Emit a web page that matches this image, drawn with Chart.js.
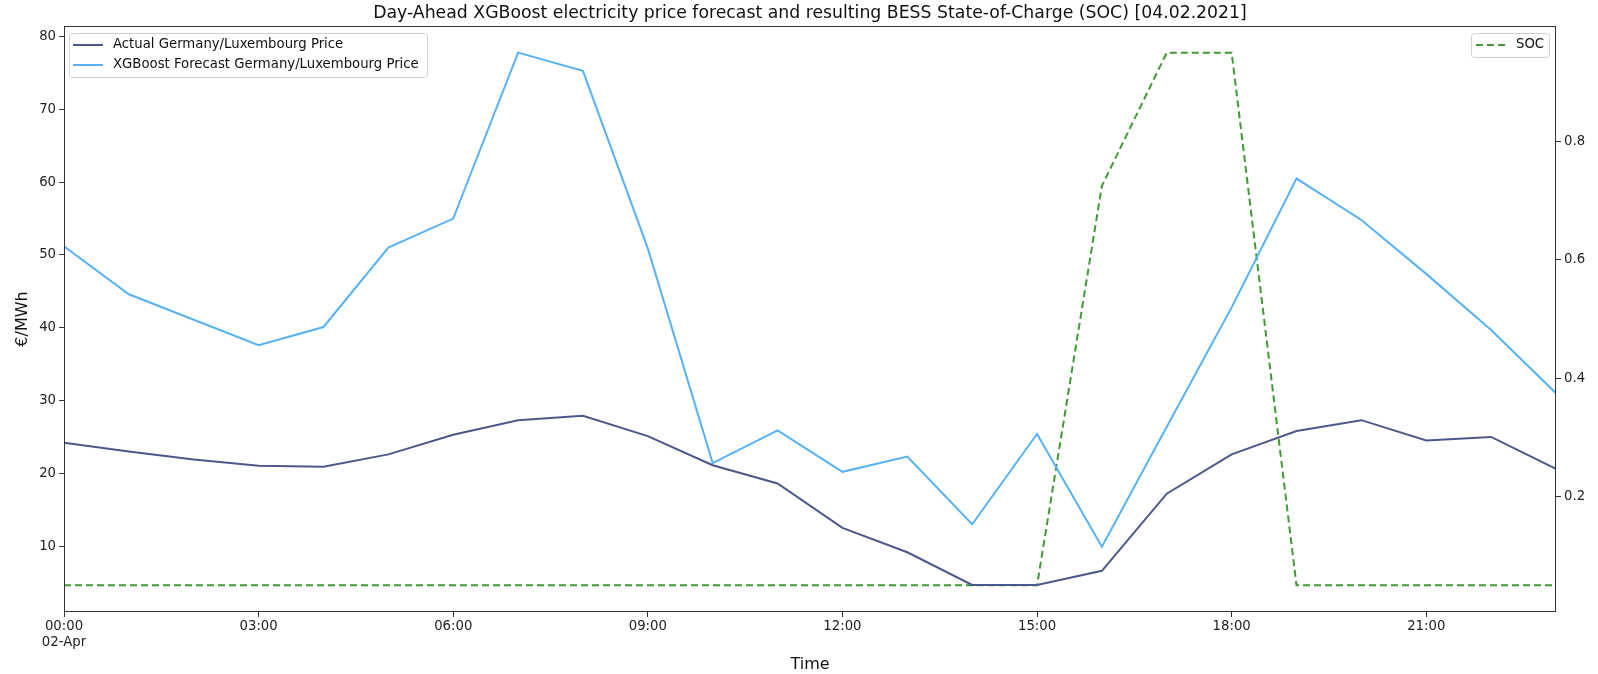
<!DOCTYPE html>
<html>
<head>
<meta charset="utf-8">
<script src="https://cdn.jsdelivr.net/npm/chart.js@4.4.1/dist/chart.umd.min.js"></script>
<style>
  html, body { margin: 0; padding: 0; background: #ffffff; }
  #wrap { width: 1598px; height: 674px; position: relative; }
</style>
</head>
<body>
<div id="wrap"><canvas id="c" width="1598" height="674"></canvas></div>
<script>
// ---- data ----
const hours = [0,1,2,3,4,5,6,7,8,9,10,11,12,13,14,15,16,17,18,19,20,21,22,23];
const actualPrice = [24.2, 23.0, 21.9, 21.05, 20.9, 22.6, 25.3, 27.3, 27.9, 25.1, 21.1, 18.6, 12.5, 9.15, 4.65, 4.65, 6.6, 17.2, 22.6, 25.8, 27.3, 24.5, 25.0, 20.6];
const forecastPrice = [51.2, 44.6, 41.1, 37.6, 40.1, 51.0, 55.0, 77.8, 75.3, 50.9, 21.4, 25.9, 20.2, 22.3, 13.0, 25.4, 9.9, 26.4, 42.8, 60.5, 54.8, 47.4, 39.7, 31.0];
const socValues = [0.05,0.05,0.05,0.05,0.05,0.05,0.05,0.05,0.05,0.05,0.05,0.05,0.05,0.05,0.05,0.05, 0.725, 0.95, 0.95, 0.05,0.05,0.05,0.05,0.05];
const xTickValues = [0,3,6,9,12,15,18,21];
const xTickLabels = [["00:00","02-Apr"],"03:00","06:00","09:00","12:00","15:00","18:00","21:00"];
const yTickValues = [10,20,30,40,50,60,70,80];
const y1TickValues = [0.2,0.4,0.6,0.8];
const seriesLabels = ["Actual Germany/Luxembourg Price", "XGBoost Forecast Germany/Luxembourg Price", "SOC"];
const titleText = "Day-Ahead XGBoost electricity price forecast and resulting BESS State-of-Charge (SOC) [04.02.2021]";

const FONT = '"DejaVu Sans", "Liberation Sans", sans-serif';
const colActual = '#4b5889';
const colForecast = '#57b2f3';
const colSoc = '#3f9a33';

const toXY = (vals) => hours.map((h, i) => ({x: h, y: vals[i]}));

const deco = {
  id: 'deco',
  afterDraw(chart) {
    const {ctx, chartArea: a} = chart;
    ctx.save();
    // frame (spines)
    ctx.strokeStyle = '#333333';
    ctx.lineWidth = 1;
    ctx.strokeRect(Math.round(a.left) + 0.5, Math.round(a.top) + 0.5,
                   Math.round(a.right - a.left) - 1, Math.round(a.bottom - a.top) - 1);
    // title
    ctx.fillStyle = '#111111';
    ctx.font = '17.3px ' + FONT;
    ctx.textAlign = 'center';
    ctx.textBaseline = 'middle';
    ctx.fillText(titleText, (a.left + a.right) / 2, 14);

    function box(x, y, w, h) {
      ctx.beginPath();
      ctx.roundRect(x + 0.5, y + 0.5, w, h, 3);
      ctx.fillStyle = 'rgba(255,255,255,0.85)';
      ctx.fill();
      ctx.strokeStyle = '#d0d0d0';
      ctx.lineWidth = 1;
      ctx.stroke();
    }
    function entry(x, y, color, dash, text) {
      ctx.beginPath();
      ctx.setLineDash(dash);
      ctx.strokeStyle = color;
      ctx.lineWidth = 2;
      ctx.moveTo(x, y);
      ctx.lineTo(x + 30, y);
      ctx.stroke();
      ctx.setLineDash([]);
      ctx.fillStyle = '#111111';
      ctx.font = '13.25px ' + FONT;
      ctx.textAlign = 'left';
      ctx.textBaseline = 'middle';
      ctx.fillText(text, x + 40, y);
    }
    const ds = chart.data.datasets;
    // left legend
    const lx = a.left + 5, ly = a.top + 7;
    box(lx, ly, 358, 44);
    entry(lx + 4, ly + 12, ds[0].borderColor, [], ds[0].label);
    entry(lx + 4, ly + 32, ds[1].borderColor, [], ds[1].label);
    // right legend
    const rw = 78;
    const rx = a.right - 7 - rw;
    box(rx, ly, rw, 24);
    entry(rx + 5, ly + 12, ds[2].borderColor, [7, 4], ds[2].label);
    ctx.restore();
  }
};

new Chart(document.getElementById('c'), {
  type: 'line',
  data: {
    datasets: [
      { label: seriesLabels[0], data: toXY(actualPrice), borderColor: colActual, backgroundColor: colActual,
        borderWidth: 2, pointRadius: 0, tension: 0, yAxisID: 'y' },
      { label: seriesLabels[1], data: toXY(forecastPrice), borderColor: colForecast, backgroundColor: colForecast,
        borderWidth: 2, pointRadius: 0, tension: 0, yAxisID: 'y' },
      { label: seriesLabels[2], data: toXY(socValues), borderColor: colSoc, backgroundColor: colSoc,
        borderWidth: 2, borderDash: [7, 4], pointRadius: 0, tension: 0, yAxisID: 'y1' }
    ]
  },
  options: {
    responsive: false,
    animation: false,
    devicePixelRatio: 1,
    layout: { padding: { top: 26, left: 0, right: 0, bottom: 0 } },
    plugins: { legend: { display: false }, title: { display: false }, tooltip: { enabled: false } },
    scales: {
      x: {
        type: 'linear', min: 0, max: 23,
        afterBuildTicks: (s) => { s.ticks = xTickValues.map(v => ({value: v})); },
        afterFit: (s) => { s.height = 62; },
        ticks: {
          autoSkip: false, maxRotation: 0, padding: 2, color: '#222222',
          font: { family: FONT, size: 13.25 },
          callback: (v) => { const i = xTickValues.indexOf(v); return i >= 0 ? xTickLabels[i] : ''; }
        },
        grid: { drawOnChartArea: false, drawTicks: true, tickLength: 5, color: '#333333' },
        border: { display: false },
        title: { display: true, text: 'Time', color: '#111111', font: { family: FONT, size: 16 }, padding: { top: 0, bottom: 0 } }
      },
      y: {
        position: 'left', min: 0.94, max: 81.46,
        afterBuildTicks: (s) => { s.ticks = yTickValues.map(v => ({value: v})); },
        afterFit: (s) => { s.width = 64; },
        ticks: { padding: 3, color: '#222222', font: { family: FONT, size: 13.25 } },
        grid: { drawOnChartArea: false, drawTicks: true, tickLength: 5, color: '#333333' },
        border: { display: false },
        title: { display: true, text: '€/MWh', color: '#111111', font: { family: FONT, size: 16 }, padding: { top: 13, bottom: 0 } }
      },
      y1: {
        position: 'right', min: 0.005, max: 0.995,
        afterBuildTicks: (s) => { s.ticks = y1TickValues.map(v => ({value: v})); },
        afterFit: (s) => { s.width = 42; },
        ticks: { padding: 3, color: '#222222', font: { family: FONT, size: 13.25 }, callback: (v) => v.toFixed(1) },
        grid: { drawOnChartArea: false, drawTicks: true, tickLength: 5, color: '#333333' },
        border: { display: false }
      }
    }
  },
  plugins: [deco]
});
</script>
</body>
</html>
